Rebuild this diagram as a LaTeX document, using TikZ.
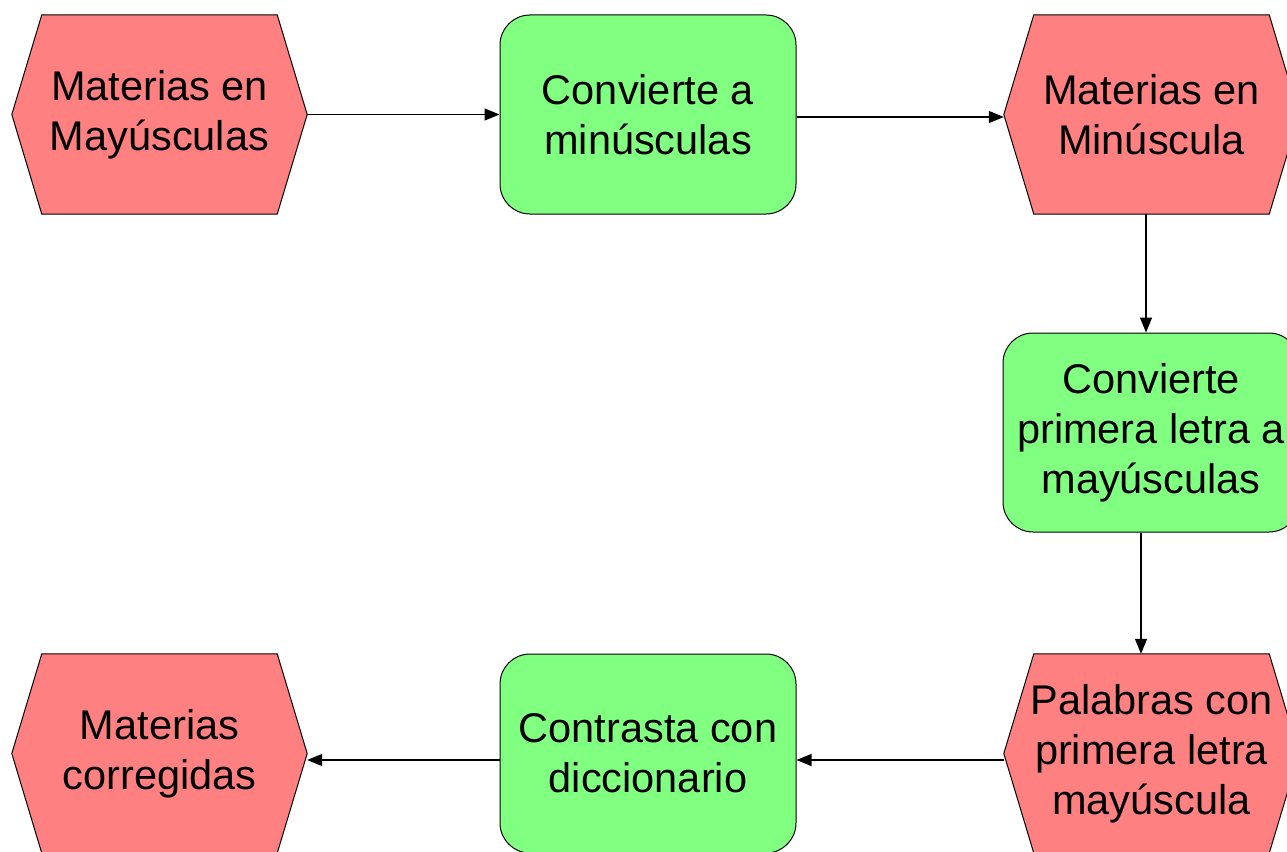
\documentclass[tikz,border=0pt]{standalone}
\usepackage{fontspec}
\setmainfont{Liberation Sans}
\usetikzlibrary{arrows.meta,backgrounds}
\definecolor{evred}{HTML}{FF8080}
\definecolor{fngreen}{HTML}{80FF80}
\tikzset{
  hexnode/.style={minimum width=295pt,minimum height=199pt,inner sep=0pt,align=center,
    font=\fontsize{41.5}{50}\selectfont},
  funcbox/.style={draw=black,line width=1pt,fill=fngreen,rounded corners=30pt,
    minimum width=296pt,minimum height=199pt,inner sep=0pt,align=center,
    font=\fontsize{41.5}{50}\selectfont},
  hexfill/.style={draw=black,line width=1pt,fill=evred},
  conn/.style={line width=1.3pt,-{Triangle[length=15pt,width=12pt]}}
}
\newcommand{\hexdraw}[1]{%
  \begin{scope}[on background layer]
  \path[hexfill] (#1.west) -- ([xshift=30pt]#1.north west) -- ([xshift=-30pt]#1.north east)
    -- (#1.east) -- ([xshift=-30pt]#1.south east) -- ([xshift=30pt]#1.south west) -- cycle;
  \end{scope}}
\begin{document}
\begin{tikzpicture}[x=1pt,y=-1pt]
\useasboundingbox (0,0) rectangle (1287,851);
\clip (0,0) rectangle (1287,851);
\node[hexnode] (h1) at (159.5,114.5) {Materias en\\Mayúsculas};
\node[funcbox] (g1) at (648,114.5) {Convierte a\\minúsculas};
\node[hexnode] (h2) at (1151.5,114.5) {Materias en\\Minúscula};
\node[funcbox] (g2) at (1151,432.5) {Convierte\\primera letra a\\mayúsculas};
\node[hexnode] (h3) at (1151.5,753.5) {Palabras con\\primera letra\\mayúscula};
\node[funcbox] (g3) at (648,753.5) {Contrasta con\\diccionario};
\node[hexnode] (h4) at (159.5,753.5) {Materias\\corregidas};
\hexdraw{h1}\hexdraw{h2}\hexdraw{h3}\hexdraw{h4}
\draw[conn] (h1.east) -- (g1.west);
\draw[conn] ([yshift=-2.5pt]g1.east) -- ([yshift=-2.5pt]h2.west);
\draw[conn] ([xshift=-5.5pt]h2.south) -- ([xshift=-5pt]g2.north);
\draw[conn] ([xshift=-10pt]g2.south) -- ([xshift=-10.5pt]h3.north);
\draw[conn] ([yshift=-6.5pt]h3.west) -- ([yshift=-6.5pt]g3.east);
\draw[conn] ([yshift=-6.5pt]g3.west) -- ([yshift=-6.5pt]h4.east);
\end{tikzpicture}
\end{document}
